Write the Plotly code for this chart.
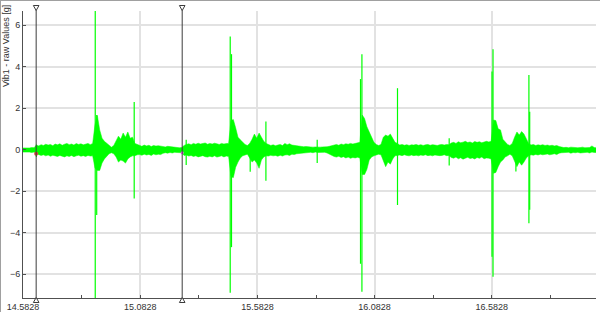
import numpy as np
import plotly.graph_objects as go

# ---------------- data ----------------
t_start = 14.58          # first envelope sample time [s]
t_step = 0.01            # envelope sample spacing [s]

# per-sample upper / lower envelope of the raw vibration signal [g]
env_upper = [
    0.08, 0.07, 0.09, 0.08, 0.10, 0.09, 0.22, 0.18, 0.24, 0.20,
    0.26, 0.22, 0.25, 0.19, 0.27, 0.23, 0.28, 0.21, 0.26, 0.30,
    0.24, 0.27, 0.22, 0.29, 0.25, 0.28, 0.23, 0.26, 0.30, 0.24,
    0.30, 1.20, 1.65, 0.95, 0.55, 0.40, 0.30, 0.20, 0.12, 0.20,
    0.45, 0.65, 0.50, 0.80, 0.60, 0.85, 0.55, 0.60, 0.30, 0.25,
    0.20, 0.16, 0.22, 0.18, 0.21, 0.15, 0.20, 0.17, 0.19, 0.16,
    0.15, 0.13, 0.16, 0.14, 0.15, 0.12, 0.10, 0.09, 0.10, 0.20,
    0.25, 0.28, 0.24, 0.30, 0.26, 0.31, 0.27, 0.29, 0.32, 0.26,
    0.30, 0.27, 0.31, 0.28, 0.25, 0.30, 0.27, 0.29, 0.30, 1.40,
    1.45, 1.05, 0.60, 0.47, 0.35, 0.25, 0.20, 0.30, 0.50, 0.75,
    0.55, 0.80, 0.60, 0.40, 0.30, 0.24, 0.20, 0.23, 0.19, 0.22,
    0.25, 0.20, 0.30, 0.24, 0.28, 0.22, 0.20, 0.18, 0.19, 0.16,
    0.14, 0.15, 0.13, 0.14, 0.12, 0.13, 0.11, 0.12, 0.13, 0.12,
    0.14, 0.16, 0.20, 0.22, 0.25, 0.21, 0.27, 0.24, 0.28, 0.26,
    0.30, 0.27, 0.29, 0.31, 0.35, 1.67, 1.50, 1.10, 0.85, 0.55,
    0.35, 0.25, 0.20, 0.25, 0.60, 0.70, 0.65, 0.75, 0.55, 0.35,
    0.30, 0.22, 0.25, 0.21, 0.24, 0.20, 0.23, 0.22, 0.25, 0.21,
    0.24, 0.20, 0.23, 0.25, 0.21, 0.24, 0.22, 0.20, 0.23, 0.25,
    0.22, 0.25, 0.24, 0.32, 0.35, 0.30, 0.38, 0.33, 0.36, 0.40,
    0.34, 0.37, 0.32, 0.39, 0.35, 0.38, 0.33, 0.36, 0.40, 0.37,
    0.40, 1.43, 1.40, 1.00, 0.95, 0.50, 0.35, 0.25, 0.20, 0.30,
    0.60, 0.85, 0.70, 0.87, 0.75, 0.50, 0.30, 0.22, 0.25, 0.20,
    0.23, 0.21, 0.24, 0.20, 0.22, 0.19, 0.21, 0.18, 0.20, 0.15,
    0.12, 0.10, 0.11, 0.09, 0.12, 0.10, 0.11, 0.09, 0.10, 0.12,
    0.09, 0.11, 0.10, 0.18, 0.10, 0.09, 0.10,
]
env_lower = [
    -0.12, -0.11, -0.13, -0.12, -0.14, -0.12, -0.20, -0.24, -0.28, -0.25,
    -0.30, -0.26, -0.32, -0.27, -0.29, -0.33, -0.28, -0.31, -0.35, -0.30,
    -0.33, -0.28, -0.34, -0.30, -0.27, -0.32, -0.29, -0.33, -0.28, -0.31,
    -0.30, -0.90, -1.00, -1.00, -0.65, -0.45, -0.30, -0.20, -0.15, -0.20,
    -0.35, -0.60, -0.50, -0.55, -0.65, -0.45, -0.35, -0.30, -0.30, -0.25,
    -0.24, -0.27, -0.22, -0.26, -0.23, -0.28, -0.21, -0.25, -0.22, -0.24,
    -0.18, -0.15, -0.17, -0.14, -0.16, -0.13, -0.14, -0.13, -0.15, -0.28,
    -0.26, -0.31, -0.28, -0.33, -0.30, -0.35, -0.31, -0.29, -0.34, -0.36,
    -0.32, -0.35, -0.30, -0.36, -0.33, -0.30, -0.35, -0.31, -0.33, -1.30,
    -1.35, -0.85, -0.60, -0.40, -0.30, -0.25, -0.22, -0.40, -0.60, -0.50,
    -0.65, -0.90, -0.50, -0.35, -0.30, -0.31, -0.27, -0.30, -0.28, -0.32,
    -0.27, -0.31, -0.26, -0.25, -0.28, -0.22, -0.24, -0.20, -0.19, -0.17,
    -0.15, -0.14, -0.16, -0.13, -0.15, -0.12, -0.14, -0.13, -0.15, -0.13,
    -0.16, -0.22, -0.30, -0.33, -0.36, -0.32, -0.38, -0.34, -0.40, -0.36,
    -0.42, -0.38, -0.40, -0.37, -0.40, -1.20, -1.20, -0.95, -0.50, -0.35,
    -0.30, -0.25, -0.22, -0.25, -0.50, -0.82, -0.60, -0.70, -0.45, -0.30,
    -0.28, -0.26, -0.29, -0.25, -0.28, -0.30, -0.26, -0.29, -0.27, -0.30,
    -0.26, -0.28, -0.25, -0.29, -0.27, -0.30, -0.26, -0.28, -0.29, -0.28,
    -0.25, -0.29, -0.28, -0.38, -0.41, -0.36, -0.44, -0.39, -0.46, -0.41,
    -0.37, -0.43, -0.40, -0.45, -0.38, -0.42, -0.36, -0.44, -0.40, -0.41,
    -0.45, -1.14, -1.10, -0.82, -0.60, -0.50, -0.35, -0.30, -0.22, -0.30,
    -0.60, -0.82, -0.60, -0.75, -0.60, -0.40, -0.30, -0.25, -0.27, -0.23,
    -0.26, -0.22, -0.25, -0.24, -0.21, -0.25, -0.23, -0.20, -0.24, -0.17,
    -0.15, -0.14, -0.16, -0.13, -0.17, -0.14, -0.15, -0.13, -0.16, -0.14,
    -0.15, -0.13, -0.16, -0.12, -0.14, -0.13, -0.14,
]

# isolated impulse spikes: time [s], max [g], min [g]
spike_t = [14.6400, 14.8910, 14.8972, 15.0572, 15.2790, 15.4668, 15.4723,
           15.5521, 15.6191, 15.8379, 16.0227, 16.0287, 16.1805, 16.4010,
           16.5837, 16.5880, 16.6856, 16.7411, 16.7445]
spike_hi = [0.24, 6.90, 1.67, 2.30, 0.47, 5.45, 4.60, 0.30, 1.35, 0.47,
            3.40, 4.60, 2.96, 0.55, 3.76, 4.84, 0.50, 3.60, 1.83]
spike_lo = [-0.35, -7.30, -3.15, -2.35, -0.74, -6.90, -4.70, -1.07, -1.50,
            -0.64, -5.50, -6.85, -2.67, -0.77, -5.16, -6.12, -1.06, -3.55,
            -2.90]

# measurement cursors [s]
cursor_t = [14.639, 15.262]

x_ticks = [14.5828, 15.0828, 15.5828, 16.0828, 16.5828]
x_tick_text = ["14.5828", "15.0828", "15.5828", "16.0828", "16.5828"]
y_ticks = [-6, -4, -2, 0, 2, 4, 6]
y_title = "Vib1 - raw Values [g]"

# ---------------- figure ----------------
GREEN = "rgb(0,255,0)"
CUR = "#3c3c3c"
W, H = 600, 312
ML, MR, MT, MB = 23, 4, 11, 14
plot_w = W - ML - MR
plot_h = H - MT - MB
px_per_x = 234.4
x_range = [14.5828, 14.5828 + plot_w / px_per_x]
y_range = [-7.15, 6.68]

t_env = t_start + t_step * np.arange(len(env_upper))

fig = go.Figure()
fig.add_trace(go.Scatter(x=t_env, y=env_upper, mode="lines",
                         line=dict(color=GREEN, width=0.5), hoverinfo="skip",
                         showlegend=False))
fig.add_trace(go.Scatter(x=t_env, y=env_lower, mode="lines", fill="tonexty",
                         fillcolor=GREEN, line=dict(color=GREEN, width=0.5),
                         hoverinfo="skip", showlegend=False))

sx, sy = [], []
for t, hi, lo in zip(spike_t, spike_hi, spike_lo):
    sx += [t, t, None]
    sy += [hi, lo, None]
fig.add_trace(go.Scatter(x=sx, y=sy, mode="lines",
                         line=dict(color=GREEN, width=1.2), hoverinfo="skip",
                         showlegend=False))

# cursors: vertical line + open triangles at both ends
def py(p):  # pixel row -> paper y
    return (H - MB - p) / plot_h

hw = 2.8 / px_per_x
for ct in cursor_t:
    fig.add_shape(type="line", xref="x", yref="paper", x0=ct, x1=ct,
                  y0=py(298), y1=py(10),
                  line=dict(color=CUR, width=1))
    fig.add_shape(type="path", xref="x", yref="paper",
                  path=f"M {ct-hw},{py(5.5)} L {ct+hw},{py(5.5)} L {ct},{py(10.5)} Z",
                  fillcolor="white", line=dict(color=CUR, width=1))
    fig.add_shape(type="path", xref="x", yref="paper",
                  path=f"M {ct-hw},{py(302.5)} L {ct+hw},{py(302.5)} L {ct},{py(297.5)} Z",
                  fillcolor="white", line=dict(color=CUR, width=1))

fig.add_trace(go.Scatter(x=[cursor_t[0]], y=[-0.2], mode="markers",
                         marker=dict(symbol="circle", size=4, color="#e04040"),
                         showlegend=False, hoverinfo="skip"))
fig.add_trace(go.Scatter(x=[cursor_t[1]], y=[-0.15], mode="markers",
                         marker=dict(symbol="circle", size=3, color="#ff60ff"),
                         showlegend=False, hoverinfo="skip"))

# frame lines of the window (top and left edges)
fig.add_shape(type="line", xref="paper", yref="paper",
              x0=-ML / plot_w, x1=1 + MR / plot_w,
              y0=py(0.5), y1=py(0.5),
              line=dict(color="#a0a0a0", width=1))
fig.add_shape(type="line", xref="paper", yref="paper",
              x0=-(ML - 0.5) / plot_w, x1=-(ML - 0.5) / plot_w,
              y0=py(H), y1=py(0),
              line=dict(color="#a0a0a0", width=1))

fig.add_annotation(text=y_title, xref="paper", yref="paper",
                   x=-(ML - 6) / plot_w, y=py(46),
                   xanchor="center", yanchor="middle", textangle=-90,
                   showarrow=False,
                   font=dict(family="Liberation Sans", size=9, color="#333"))

axis_font = dict(family="Liberation Sans", size=9, color="#333")
fig.update_xaxes(range=x_range, tickvals=x_ticks, ticktext=x_tick_text,
                 showgrid=True, gridcolor="#e2e2e2", gridwidth=1.5,
                 zeroline=False, showline=True, linecolor="#505050",
                 linewidth=1, ticks="inside", ticklen=3, tickcolor="#505050",
                 ticklabelstandoff=0, automargin=False,
                 minor=dict(dtick=0.25, tick0=14.5828, ticks="inside",
                            ticklen=3, tickcolor="#505050", showgrid=False),
                 tickfont=axis_font, fixedrange=True)
fig.update_yaxes(range=y_range, tickvals=y_ticks, showgrid=True,
                 gridcolor="#e2e2e2", gridwidth=1.5, zeroline=False,
                 showline=True, linecolor="#505050", linewidth=1,
                 ticks="inside", ticklen=3, tickcolor="#505050",
                 automargin=False,
                 tickfont=axis_font, fixedrange=True)

fig.update_layout(width=W, height=H,
                  margin=dict(l=ML, r=MR, t=MT, b=MB, pad=0, autoexpand=False),
                  paper_bgcolor="white", plot_bgcolor="white",
                  showlegend=False)

fig.write_html("out.html")
